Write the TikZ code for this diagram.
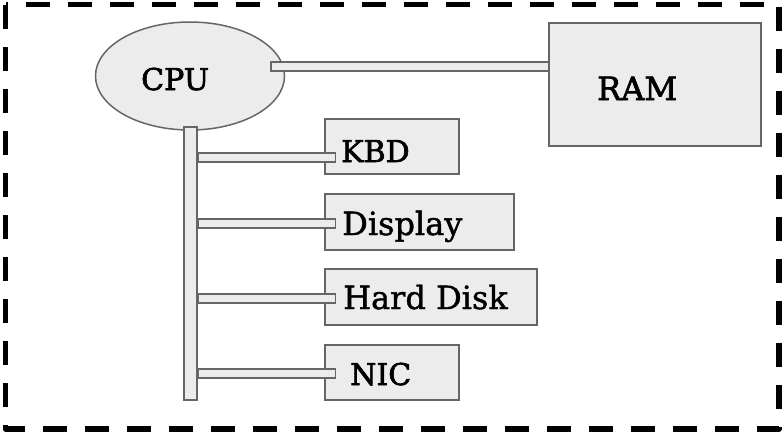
\documentclass[tikz,border=0pt]{standalone}
\usepackage{fontspec}
\setmainfont{DejaVu Serif}
\newfontfamily\heavyfont[FakeBold=2.2]{DejaVu Serif}
\newfontfamily\midfont[FakeBold=1.2]{DejaVu Serif}
\usetikzlibrary{shapes.geometric,calc}
\definecolor{boxfill}{HTML}{ECECEC}
\definecolor{boxline}{HTML}{666666}
\tikzset{
  part/.style={draw=boxline, fill=boxfill, line width=1.5pt, inner sep=0pt, rectangle},
  cpushape/.style={part, ellipse, minimum width=189pt, minimum height=108pt},
  bar/.style={draw=boxline, fill=boxfill, line width=1.5pt},
  txt/.style={anchor=base west, inner sep=0pt, font=\midfont\fontsize{32}{36}\selectfont},
  txtsm/.style={txt, font=\heavyfont\fontsize{30}{34}\selectfont},
  frame/.style={draw=black, line width=5.5pt, dash pattern=on 24pt off 18pt, line join=round}
}
\begin{document}
\begin{tikzpicture}[x=1pt,y=-1pt]
\useasboundingbox (0,0) rectangle (784,434);
\draw[frame] (5.5,4.5) rectangle (779,429);
% parts
\node[cpushape] (cpu) at (190,76) {};
\node[part, minimum width=212pt, minimum height=123pt] (ram) at (655,84.5) {};
\node[part, minimum width=134pt, minimum height=55pt] (kbd) at (392,146.5) {};
\node[part, minimum width=189pt, minimum height=56pt] (disp) at (419.5,222) {};
\node[part, minimum width=212pt, minimum height=56pt] (hdd) at (431,297) {};
\node[part, minimum width=134pt, minimum height=55pt] (nic) at (392,372.5) {};
% connectors
\draw[bar] ($(cpu.east)+(-14.5,-14)$) rectangle ($(ram.west)+(0,-13.5)$);
\node[part, minimum width=13pt, minimum height=273pt] (bus) at (190.5,263.5) {};
\draw[bar] ($(bus.east |- kbd.west)+(0,6.5)$) rectangle ($(kbd.west)+(11,15.5)$);
\draw[bar] ($(bus.east |- disp.west)+(0,-3)$) rectangle ($(disp.west)+(11,6)$);
\draw[bar] ($(bus.east |- hdd.west)+(0,-3)$) rectangle ($(hdd.west)+(11,6)$);
\draw[bar] ($(bus.east |- nic.west)+(0,-3.5)$) rectangle ($(nic.west)+(11,5.5)$);
% labels
\node[txtsm] (cpuT) at (141,90) {CPU};
\node[txtsm, font=\heavyfont\fontsize{32}{36}\selectfont] (ramT) at (597,100) {RAM};
\node[txtsm] (kbdT) at (341,162) {KBD};
\node[txt] (dispT) at (342,235) {Display};
\node[txt] (hddT) at (343,309) {Hard Disk};
\node[txtsm] (nicT) at (350,385) {NIC};
\end{tikzpicture}
\end{document}
